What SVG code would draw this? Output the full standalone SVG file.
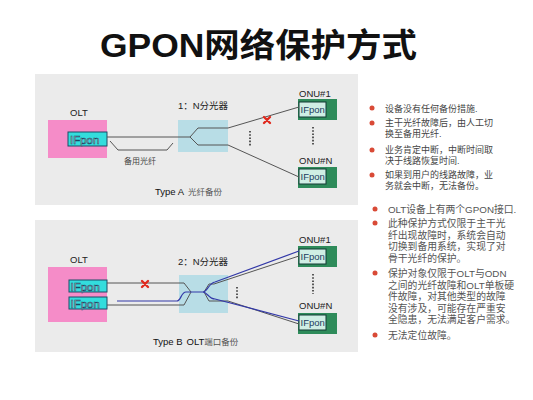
<svg xmlns="http://www.w3.org/2000/svg" width="533" height="400" viewBox="0 0 533 400">
<style>
  text { font-family: "Liberation Sans", "Noto Sans CJK SC", sans-serif; }
  .panel { fill: #ebebeb; }
  .olt { fill: #f58cc8; }
  .ifp { fill: #33dddd; stroke: #1d4d66; stroke-width: 1; }
  .ifpt { fill: #f4ffff; stroke: #184a66; stroke-width: 0.6; font-size: 11.5px; }
  .spl { fill: #b8dde6; }
  .onu { fill: #2e8b5a; }
  .onuif { fill: #cfeee4; stroke: #123b35; stroke-width: 1; }
  .onuift { fill: #1c3a5e; font-size: 9.5px; }
  .lbl { fill: #222; font-size: 9.5px; }
  .small { fill: #444; font-size: 8px; }
  .g { fill: none; stroke: #555; stroke-width: 1; }
  .b { fill: none; stroke: #3238a8; stroke-width: 1.2; }
  .x { stroke: #e02a1e; stroke-width: 2.4; stroke-linecap: round; }
  .dots { stroke: #333; stroke-width: 1.6; stroke-dasharray: 1.6 1.6; }
  .bul { fill: #d94a36; }
  .t1 { fill: #444; font-size: 9px; }
  .t2 { fill: #555; font-size: 9.8px; }
</style>

<g id="title">
  <text x="100" y="57" font-size="33" font-weight="bold" fill="#111" textLength="317" lengthAdjust="spacingAndGlyphs">GPON网络保护方式</text>
</g>

<!-- Panel A -->
<g id="panelA">
  <rect class="panel" x="35" y="74" width="323" height="131"/>
  <text class="lbl" x="155" y="195" font-size="9"><tspan fill="#111">Type A</tspan><tspan fill="#555" dx="4" font-size="8.5">光纤备份</tspan></text>
</g>
<g id="oltA">
  <text class="lbl" x="70" y="116">OLT</text>
  <rect class="olt" x="48" y="120" width="59" height="38"/>
  <rect class="ifp" x="68" y="132" width="39" height="14"/>
  <text class="ifpt" x="70" y="143.5">IFpon</text>
</g>
<g id="splitterA">
  <rect class="spl" x="178" y="120" width="50" height="32"/>
  <text class="lbl" x="203" y="109" text-anchor="middle" font-size="8.5">1：N分光器</text>
</g>
<g id="onu1A">
  <text class="lbl" x="299" y="97">ONU#1</text>
  <rect class="onu" x="298" y="99" width="39" height="21"/>
  <rect class="onuif" x="299" y="102" width="27" height="15"/>
  <text class="onuift" x="300.5" y="113">IFpon</text>
</g>
<g id="onuNA">
  <text class="lbl" x="299" y="164">ONU#N</text>
  <rect class="onu" x="298" y="167" width="39" height="21"/>
  <rect class="onuif" x="299" y="169" width="27" height="15"/>
  <text class="onuift" x="300.5" y="180">IFpon</text>
</g>
<g id="connectorsA">
  <path class="g" d="M107,137 H190 L198,128 H228 L299,107"/>
  <path class="g" d="M190,137 L198,145 H228 L299,177"/>
  <path class="g" d="M110,141 L118,150 H167 L173,143"/>
  <text class="small" x="140" y="164" text-anchor="middle">备用光纤</text>
  <path class="x" d="M264,117 L270,123 M270,117 L264,123"/>
  <line class="dots" x1="250" y1="131" x2="250" y2="146"/>
  <line class="dots" x1="313" y1="127" x2="313" y2="146"/>
</g>

<!-- Panel B -->
<g id="panelB">
  <rect class="panel" x="35" y="220" width="323" height="132"/>
  <text class="lbl" x="153" y="345" font-size="9"><tspan fill="#111">Type B</tspan><tspan fill="#111" dx="4">OLT</tspan><tspan fill="#555" font-size="8.5">端口备份</tspan></text>
</g>
<g id="oltB">
  <text class="lbl" x="70" y="263">OLT</text>
  <rect class="olt" x="48" y="267" width="59" height="55"/>
  <rect class="ifp" x="69" y="280" width="38" height="12"/>
  <text class="ifpt" x="70.5" y="290.5">IFpon</text>
  <rect class="ifp" x="69" y="297" width="38" height="12"/>
  <text class="ifpt" x="70.5" y="307.5">IFpon</text>
</g>
<g id="splitterB">
  <rect class="spl" x="179" y="275" width="49" height="38"/>
  <text class="lbl" x="203" y="265" text-anchor="middle" font-size="8.5">2：N分光器</text>
</g>
<g id="onu1B">
  <text class="lbl" x="299" y="243">ONU#1</text>
  <rect class="onu" x="298" y="246" width="39" height="21"/>
  <rect class="onuif" x="299" y="249" width="27" height="15"/>
  <text class="onuift" x="300.5" y="260">IFpon</text>
</g>
<g id="onuNB">
  <text class="lbl" x="299" y="309">ONU#N</text>
  <rect class="onu" x="298" y="313" width="39" height="21"/>
  <rect class="onuif" x="299" y="315" width="27" height="15"/>
  <text class="onuift" x="300.5" y="326">IFpon</text>
</g>
<g id="connectorsB">
  <path class="g" d="M107,283 H184 L191,292 L184,305 H107"/>
  <path class="g" d="M209,284 L204,292 L209,301 H228 L299,324"/>
  <path class="g" d="M209,284 H214 L299,256"/>
  <path class="b" d="M117,301 H177 C181,301 181,292 186,292 H203 C207,292 209,283 215,282 L299,251"/>
  <path class="b" d="M203,292 C207,292 209,299 215,299 L299,321"/>
  <path class="x" d="M142,281 L148,287 M148,281 L142,287"/>
  <line class="dots" x1="237" y1="287" x2="237" y2="299"/>
  <line class="dots" x1="313" y1="274" x2="313" y2="294"/>
</g>

<!-- Bullets A -->
<g id="notesA">
  <circle class="bul" cx="372" cy="108" r="2.5"/>
  <text class="t1" x="385" y="112">设备没有任何备份措施.</text>
  <circle class="bul" cx="372" cy="123" r="2.5"/>
  <text class="t1" x="385" y="126">主干光纤故障后，由人工切</text>
  <text class="t1" x="385" y="137">换至备用光纤.</text>
  <circle class="bul" cx="372" cy="150" r="2.5"/>
  <text class="t1" x="385" y="153">业务肯定中断，中断时间取</text>
  <text class="t1" x="385" y="164">决于线路恢复时间.</text>
  <circle class="bul" cx="372" cy="175" r="2.5"/>
  <text class="t1" x="385" y="178">如果到用户的线路故障，业</text>
  <text class="t1" x="385" y="189">务就会中断，无法备份。</text>
</g>

<!-- Bullets B -->
<g id="notesB">
  <circle class="bul" cx="375" cy="209" r="2.5"/>
  <text class="t2" x="388" y="213">OLT设备上有两个GPON接口.</text>
  <circle class="bul" cx="375" cy="223" r="2.5"/>
  <text class="t2" x="388" y="227">此种保护方式仅限于主干光</text>
  <text class="t2" x="388" y="238.5">纤出现故障时，系统会自动</text>
  <text class="t2" x="388" y="250">切换到备用系统，实现了对</text>
  <text class="t2" x="388" y="261.5">骨干光纤的保护。</text>
  <circle class="bul" cx="375" cy="273" r="2.5"/>
  <text class="t2" x="388" y="277">保护对象仅限于OLT与ODN</text>
  <text class="t2" x="388" y="288.5">之间的光纤故障和OLT单板硬</text>
  <text class="t2" x="388" y="300">件故障，对其他类型的故障</text>
  <text class="t2" x="388" y="311.5">没有涉及，可能存在严重安</text>
  <text class="t2" x="388" y="323">全隐患，无法满足客户需求。</text>
  <circle class="bul" cx="375" cy="335" r="2.5"/>
  <text class="t2" x="388" y="339">无法定位故障。</text>
</g>
</svg>
